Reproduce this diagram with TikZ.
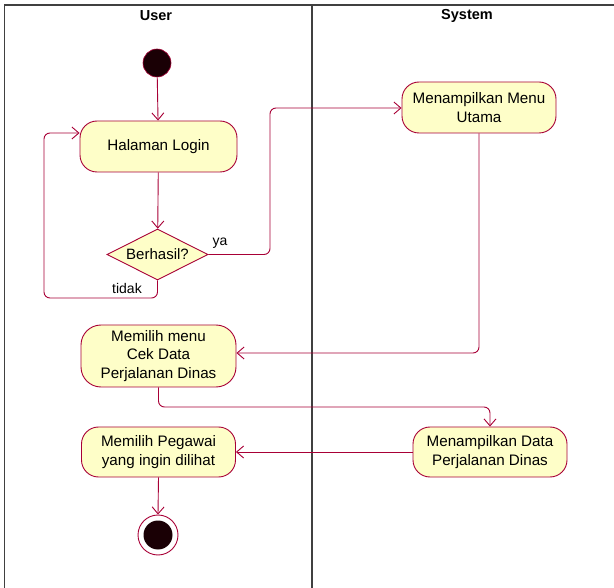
\documentclass[tikz,border=0pt]{standalone}
\usepackage{fontspec}
\setmainfont{Liberation Sans}
\usetikzlibrary{arrows.meta,shapes.geometric}
\definecolor{umlred}{HTML}{A80036}
\definecolor{umlfill}{HTML}{FEFEC8}
\definecolor{startfill}{HTML}{1A0005}
\tikzset{
  action/.style={draw=umlred, fill=umlfill, line width=0.9pt, rounded corners=17pt,
    align=center, font=\fontsize{15.2}{18.5}\selectfont, inner sep=0pt},
  decision/.style={draw=umlred, fill=umlfill, line width=0.9pt, diamond, aspect=2,
    minimum width=101pt, minimum height=51pt, inner sep=0pt, font=\fontsize{15}{18}\selectfont},
  flow/.style={draw=umlred, line width=0.9pt, rounded corners=6pt,
    -{Straight Barb[length=7pt,width=12pt,line width=0.9pt]}},
  lane/.style={draw=black!75, line width=1.4pt},
  lanetitle/.style={font=\bfseries\fontsize{14.5}{18}\selectfont},
  lbl/.style={font=\fontsize{14}{17}\selectfont}
}
\begin{document}
\begin{tikzpicture}[x=1pt,y=-1pt]
\useasboundingbox (0,0) rectangle (614,588);
% swimlane frame
\draw[lane] (4.5,588) -- (4.5,5) -- (614,5);
\draw[lane] (312,5) -- (312,588);
\node[lanetitle] (tUser) at (156,16) {User};
\node[lanetitle] (tSys) at (467,16) {System};

% start and end
\node[circle, fill=startfill, draw=umlred, line width=0.6pt, minimum size=28pt, inner sep=0pt] (start) at (157,63) {};
\node[circle, draw=umlred, fill=white, line width=0.9pt, minimum size=40pt, inner sep=0pt] (endo) at (158,535) {};
\node[circle, fill=startfill, minimum size=29pt, inner sep=0pt] (endi) at (158,535) {};

% actions
\node[action, minimum width=157pt, minimum height=51pt] (login) at (158.5,146.5) {Halaman Login};
\node[decision] (cek) at (157.5,254.5) {Berhasil?};
\node[action, minimum width=154pt, minimum height=51pt] (menu) at (479,107.5) {Menampilkan Menu\\Utama};
\node[action, minimum width=155pt, minimum height=62pt, rounded corners=20pt] (pilih) at (158.5,356) {Memilih menu\\Cek Data\\Perjalanan Dinas};
\node[action, minimum width=154pt, minimum height=50pt] (tampil) at (490,452) {Menampilkan Data\\Perjalanan Dinas};
\node[action, minimum width=154pt, minimum height=50pt] (pegawai) at (158.5,452) {Memilih Pegawai\\yang ingin dilihat};

% flows
\draw[flow] (start) -- (login);
\draw[flow] (login) -- (cek);
\draw[flow] (cek.east) -- (270,254.5) -- (270,108) -- (menu.west |- 0,108);
\draw[flow] (cek.south) -- (157.5,298) -- (44,298) -- (44,133) -- (login.west |- 0,133);
\draw[flow] (menu.south) -- (479,353) -- (pilih.east |- 0,353);
\draw[flow] (pilih.south) -- (158.5,407) -- (490,407) -- (tampil.north);
\draw[flow] (tampil.west) -- (pegawai.east);
\draw[flow] (pegawai.south) -- (endo.north);

% guards
\node[lbl] (ya) at (220,243) {ya};
\node[lbl] (tidak) at (127,288) {tidak};
\end{tikzpicture}
\end{document}
